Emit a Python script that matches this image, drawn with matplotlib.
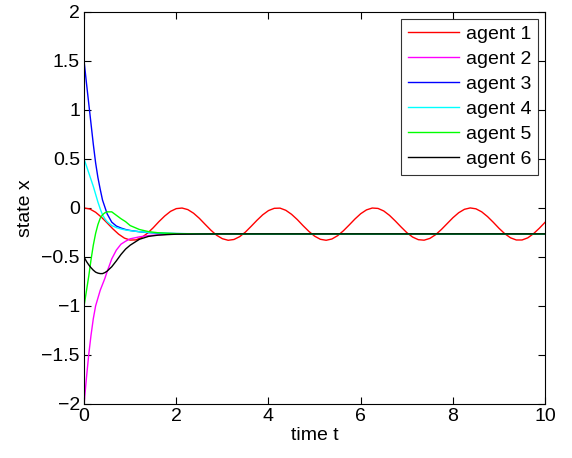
import matplotlib
matplotlib.use("Agg")
import matplotlib.pyplot as plt

# ─── Data ──────────────────────────────────────────────────────
# agent 1 keeps oscillating, sampled every 0.125
t1 = [i * 0.125 for i in range(81)]
agent1 = [
    0.000, -0.011, -0.044, -0.094, -0.153, -0.214, -0.268, -0.308, -0.328,
    -0.326, -0.301, -0.258, -0.202, -0.139, -0.082, -0.035, -0.007, -0.001,
    -0.017, -0.054, -0.106, -0.167, -0.227, -0.279, -0.314, -0.330, -0.322,
    -0.293, -0.246, -0.187, -0.126, -0.070, -0.027, -0.004, -0.002, -0.024,
    -0.065, -0.119, -0.181, -0.239, -0.288, -0.320, -0.330, -0.317, -0.283,
    -0.233, -0.174, -0.113, -0.059, -0.020, -0.001, -0.005, -0.031, -0.076,
    -0.133, -0.194, -0.252, -0.297, -0.324, -0.329, -0.311, -0.273, -0.220,
    -0.160, -0.100, -0.049, -0.014, -0.000, -0.009, -0.040, -0.088, -0.146,
    -0.208, -0.263, -0.305, -0.327, -0.327, -0.305, -0.262, -0.207, -0.146,
]

# the other agents settle quickly, denser samples early on
t = [0, 0.05, 0.1, 0.15, 0.2, 0.25, 0.3, 0.35, 0.4, 0.45, 0.5, 0.6, 0.7,
     0.8, 0.9, 1.0, 1.2, 1.4, 1.6, 1.8, 2.0, 2.5, 3.0, 4.0, 10.0]
agent2 = [-2.0, -1.74, -1.50, -1.30, -1.13, -1.0, -0.92, -0.84, -0.78, -0.72,
          -0.65, -0.52, -0.43, -0.37, -0.34, -0.315, -0.295, -0.282, -0.275,
          -0.27, -0.268, -0.266, -0.265, -0.265, -0.265]
agent3 = [1.5, 1.28, 1.07, 0.86, 0.65, 0.46, 0.31, 0.19, 0.08, 0.01,
          -0.06, -0.145, -0.185, -0.205, -0.22, -0.23, -0.243, -0.252, -0.257,
          -0.26, -0.262, -0.264, -0.265, -0.265, -0.265]
agent4 = [0.5, 0.43, 0.36, 0.29, 0.22, 0.14, 0.06, -0.01, -0.07, -0.11,
          -0.14, -0.18, -0.2, -0.215, -0.225, -0.232, -0.243, -0.25, -0.255,
          -0.259, -0.261, -0.264, -0.265, -0.265, -0.265]
agent5 = [-1.0, -0.85, -0.70, -0.53, -0.38, -0.26, -0.17, -0.105, -0.07, -0.05,
          -0.04, -0.04, -0.075, -0.11, -0.14, -0.18, -0.22, -0.242, -0.253,
          -0.258, -0.262, -0.265, -0.265, -0.265, -0.265]
agent6 = [-0.5, -0.545, -0.58, -0.61, -0.635, -0.655, -0.665, -0.67, -0.67, -0.66,
          -0.645, -0.60, -0.54, -0.475, -0.42, -0.38, -0.32, -0.29, -0.278,
          -0.272, -0.268, -0.266, -0.265, -0.265, -0.265]

labels = ["agent 1", "agent 2", "agent 3", "agent 4", "agent 5", "agent 6"]
colors = ["#ff0000", "#ff00ff", "#0000ff", "#00ffff", "#00ff00", "#000000"]

plt.rcParams["font.family"] = ["Liberation Sans", "DejaVu Sans"]
FS = 14

fig = plt.figure(figsize=(5.72, 4.58), dpi=100)
ax = fig.add_axes([0.147, 0.118, 0.806, 0.856])

series = [(t1, agent1), (t, agent2), (t, agent3), (t, agent4), (t, agent5), (t, agent6)]
for (x, y), lab, c in zip(series, labels, colors):
    ax.plot(x, y, color=c, lw=1.0, label=lab)

ax.set_xlim(0, 10)
ax.set_ylim(-2, 2)
ax.set_xticks([0, 2, 4, 6, 8, 10])
ax.set_yticks([-2, -1.5, -1, -0.5, 0, 0.5, 1, 1.5, 2])
ax.set_yticklabels(["\u22122", "\u22121.5", "\u22121", "\u22120.5", "0", "0.5", "1", "1.5", "2"])
ax.tick_params(direction="in", top=True, right=True, length=5, width=0.8,
               labelsize=FS, pad=3)
for s in ax.spines.values():
    s.set_linewidth(0.8)

ax.set_xlabel("time t", fontsize=FS, labelpad=1)
ax.set_ylabel("state x", fontsize=FS, labelpad=5)

leg = ax.legend(loc="upper right", fontsize=FS, frameon=True, fancybox=False,
                edgecolor="black", borderaxespad=0.35, handlelength=2.65,
                handletextpad=0.35, labelspacing=0.38, borderpad=0.35)
leg.get_frame().set_linewidth(0.8)

fig.savefig("out.png", dpi=100, facecolor="white")
